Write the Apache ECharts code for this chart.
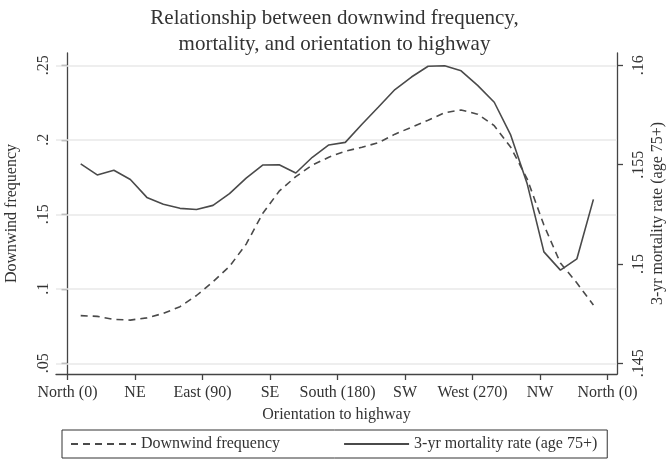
<!DOCTYPE html>
<html>
<head>
<meta charset="utf-8">
<script src="https://cdn.jsdelivr.net/npm/echarts@6/dist/echarts.min.js"></script>
<style>
html,body{margin:0;padding:0;background:#fff;}
#chart{width:669px;height:465px;}
</style>
</head>
<body>
<div id="chart"></div>
<script>
// Orientation (degrees) of each plotted point
var orientation = [8.8, 19.8, 30.9, 41.9, 52.9, 63.9, 75.0, 86.0, 97.0, 108.0, 119.1, 130.1,
  141.1, 152.2, 163.2, 174.2, 185.2, 196.3, 207.3, 218.3, 229.3, 240.4, 251.4, 262.4,
  273.4, 284.5, 295.5, 306.5, 317.6, 328.6, 339.6, 350.6];
// Downwind frequency (left axis)
var downwind = [0.0820, 0.0815, 0.0795, 0.0790, 0.0805, 0.0835, 0.0880, 0.0955, 0.1048, 0.1150, 0.1300, 0.1505,
  0.1655, 0.1753, 0.1830, 0.1883, 0.1924, 0.1950, 0.1981, 0.2038, 0.2084, 0.2131, 0.2182, 0.2200,
  0.2172, 0.2095, 0.1950, 0.1736, 0.1428, 0.1173, 0.1039, 0.0891];
// 3-yr mortality rate, age 75+ (right axis)
var mortality = [0.15504, 0.15448, 0.15472, 0.15425, 0.15335, 0.15301, 0.15280, 0.15274, 0.15295, 0.15354, 0.15432, 0.15498,
  0.15499, 0.15458, 0.15537, 0.15599, 0.15612, 0.15703, 0.15790, 0.15878, 0.15941, 0.15995, 0.15998, 0.15972,
  0.15899, 0.15814, 0.15648, 0.15402, 0.15061, 0.14969, 0.15026, 0.15325];
// Tick labels
var xTickValues = [0, 45, 90, 135, 180, 225, 270, 315, 360];
var xTickLabels = ['North (0)', 'NE', 'East (90)', 'SE', 'South (180)', 'SW', 'West (270)', 'NW', 'North (0)'];
var leftTickValues = [0.05, 0.10, 0.15, 0.20, 0.25];
var leftTickLabels = ['.05', '.1', '.15', '.2', '.25'];
var rightTickValues = [0.145, 0.150, 0.155, 0.160];
var rightTickLabels = ['.145', '.15', '.155', '.16'];

var FONT = 'Liberation Serif';
var TXT = '#333';
var AX = '#444';

function pairs(xs, ys) { return xs.map(function (x, i) { return [x, ys[i]]; }); }
function labelFor(vals, labels) {
  return function (v) {
    for (var i = 0; i < vals.length; i++) { if (Math.abs(vals[i] - v) < 1e-6) return labels[i]; }
    return '';
  };
}

var chart = echarts.init(document.getElementById('chart'), null, { renderer: 'canvas' });
chart.setOption({
  animation: false,
  backgroundColor: '#fff',
  title: {
    text: 'Relationship between downwind frequency,\nmortality, and orientation to highway',
    left: 'center', top: 0,
    textStyle: { fontFamily: FONT, fontSize: 21, fontWeight: 'normal', color: TXT, lineHeight: 26 }
  },
  grid: { left: 56, right: 52, top: 53, bottom: 91, outerBoundsMode: 'none', containLabel: false },
  legend: {
    left: 62, top: 430,
    padding: [6, 10, 6, 8],
    borderColor: '#333', borderWidth: 1,
    itemGap: 63, itemWidth: 65, itemHeight: 10,
    itemStyle: { opacity: 0 },
    textStyle: { fontFamily: FONT, fontSize: 16, color: TXT },
    data: ['Downwind frequency', '3-yr mortality rate (age 75+)']
  },
  xAxis: {
    type: 'value', min: -7.67, max: 366.33,
    name: 'Orientation to highway', nameLocation: 'middle', nameGap: 33,
    nameTextStyle: { fontFamily: FONT, fontSize: 16, color: TXT },
    axisLine: { show: true, lineStyle: { color: AX, width: 1.3 } },
    axisTick: { show: true, customValues: xTickValues, length: 6, lineStyle: { color: AX, width: 1.3 } },
    axisLabel: { customValues: xTickValues, formatter: labelFor(xTickValues, xTickLabels),
      fontFamily: FONT, fontSize: 16, color: TXT, margin: 11, hideOverlap: false },
    splitLine: { show: false }
  },
  yAxis: [{
    type: 'value', min: 0.04282, max: 0.25826, position: 'left',
    name: 'Downwind frequency', nameLocation: 'middle', nameGap: 36, nameRotate: 90, nameMoveOverlap: false,
    nameTextStyle: { fontFamily: FONT, fontSize: 16, color: TXT },
    axisLine: { show: true, lineStyle: { color: AX, width: 1.3 } },
    axisTick: { show: true, customValues: leftTickValues, length: 6, lineStyle: { color: AX, width: 1.3 } },
    axisLabel: { customValues: leftTickValues, formatter: labelFor(leftTickValues, leftTickLabels),
      rotate: 90, fontFamily: FONT, fontSize: 16, color: TXT, margin: 4 },
    splitLine: { show: false }
  }, {
    type: 'value', min: 0.144461, max: 0.160619, position: 'right',
    name: '3-yr mortality rate (age 75+)', nameLocation: 'middle', nameGap: 33, nameRotate: 90, nameMoveOverlap: false,
    nameTextStyle: { fontFamily: FONT, fontSize: 16, color: TXT },
    axisLine: { show: true, lineStyle: { color: AX, width: 1.3 } },
    axisTick: { show: true, customValues: rightTickValues, length: 6, lineStyle: { color: AX, width: 1.3 } },
    axisLabel: { customValues: rightTickValues, formatter: labelFor(rightTickValues, rightTickLabels),
      rotate: 90, fontFamily: FONT, fontSize: 16, color: TXT, margin: 14 },
    splitLine: { show: false }
  }],
  series: [{
    name: 'Downwind frequency',
    type: 'line', yAxisIndex: 0, symbol: 'none', smooth: false,
    data: pairs(orientation, downwind),
    itemStyle: { color: '#4a4a4a' },
    lineStyle: { color: '#4a4a4a', width: 1.6, type: [7, 5] },
    z: 3,
    markLine: {
      silent: true, symbol: ['none', 'none'], label: { show: false },
      lineStyle: { color: '#e8e8e8', width: 1.5, type: 'solid' },
      data: leftTickValues.map(function (v) { return { yAxis: v }; }),
      z: 1
    }
  }, {
    name: '3-yr mortality rate (age 75+)',
    type: 'line', yAxisIndex: 1, symbol: 'none', smooth: false,
    data: pairs(orientation, mortality),
    itemStyle: { color: '#4a4a4a' },
    lineStyle: { color: '#4a4a4a', width: 1.6, type: 'solid' },
    z: 3
  }]
});
</script>
</body>
</html>
